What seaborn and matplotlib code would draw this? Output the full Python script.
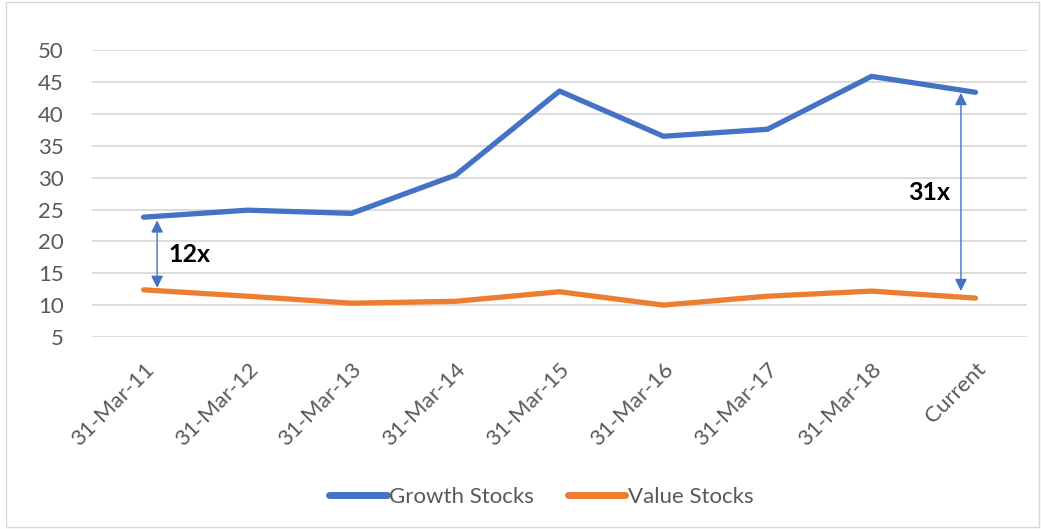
import matplotlib
matplotlib.use("Agg")
import matplotlib.pyplot as plt
import seaborn as sns
import pandas as pd
from matplotlib.patches import Rectangle

categories = ["31-Mar-11", "31-Mar-12", "31-Mar-13", "31-Mar-14", "31-Mar-15",
              "31-Mar-16", "31-Mar-17", "31-Mar-18", "Current"]
growth = [23.8, 24.9, 24.4, 30.4, 43.6, 36.5, 37.6, 45.9, 43.4]
value = [12.4, 11.4, 10.3, 10.6, 12.1, 10.0, 11.4, 12.2, 11.1]
series_names = ["Growth Stocks", "Value Stocks"]
y_ticks = [5, 10, 15, 20, 25, 30, 35, 40, 45, 50]

sns.set_theme(style="white")
plt.rcParams['font.family'] = ['Lato', 'DejaVu Sans']

df = pd.DataFrame({
    "idx": list(range(len(categories))) * 2,
    "val": growth + value,
    "series": [series_names[0]] * len(categories) + [series_names[1]] * len(categories),
})

fig = plt.figure(figsize=(10.41, 5.29), dpi=100)
ax = fig.add_axes([0.088, 0.363, 0.899, 0.542])

palette = {"Growth Stocks": "#4472C4", "Value Stocks": "#ED7D31"}
sns.lineplot(data=df, x="idx", y="val", hue="series", palette=palette,
             linewidth=3.8, ax=ax, legend=True, solid_capstyle="round")

ax.set_xlim(-0.5, len(categories) - 0.5)
ax.set_ylim(5, 50)
ax.set_yticks(y_ticks)
ax.set_yticklabels([str(t) for t in y_ticks], fontsize=16, color="#595959")
ax.set_xticks(range(len(categories)))
ax.set_xticklabels(categories, rotation=45, ha="right", rotation_mode="anchor",
                   fontsize=16, color="#595959")
ax.tick_params(axis="x", length=0, pad=16)
ax.tick_params(axis="y", length=0, pad=20)
ax.grid(axis="y", color="#D9D9D9", linewidth=1.3)
ax.set_axisbelow(True)
for s in ax.spines.values():
    s.set_visible(False)
ax.set_xlabel("")
ax.set_ylabel("")

# annotations
ax.annotate("", xy=(0.13, growth[0] - 0.5), xytext=(0.13, value[0] + 0.3),
            arrowprops=dict(arrowstyle="<|-|>", color="#4472C4", lw=1,
                            mutation_scale=18, shrinkA=0, shrinkB=0))
ax.text(0.24, 17.9, "12x", fontsize=18, fontweight="bold", color="black",
        va="center", ha="left")
ax.annotate("", xy=(7.86, growth[-1] - 0.1), xytext=(7.86, value[-1] + 1.1),
            arrowprops=dict(arrowstyle="<|-|>", color="#4472C4", lw=1,
                            mutation_scale=18, shrinkA=0, shrinkB=0))
ax.text(7.76, 27.6, "31x", fontsize=18, fontweight="bold", color="black",
        va="center", ha="right")

leg = ax.legend(loc="center", ncol=2, frameon=False, fontsize=16, handlelength=2.6,
                handletextpad=0.1, columnspacing=1.5)
leg.set_bbox_to_anchor((0.52, 0.06), transform=fig.transFigure)
for t in leg.get_texts():
    t.set_color("#595959")
for h in leg.get_lines():
    h.set_linewidth(5)
    h.set_solid_capstyle("round")

fig.patches.append(Rectangle((0.006, 0.003), 0.992, 0.994, transform=fig.transFigure,
                             fill=False, edgecolor="#D9D9D9", linewidth=1))

fig.savefig("out.png", dpi=100, facecolor="white")
